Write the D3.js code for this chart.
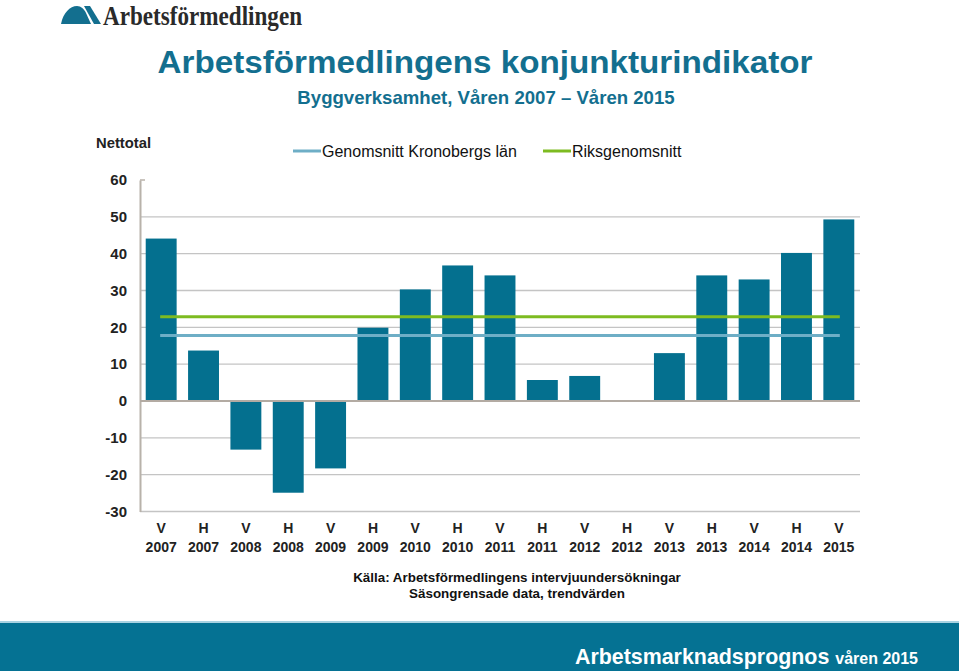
<!DOCTYPE html>
<html><head><meta charset="utf-8">
<script src="https://cdn.jsdelivr.net/npm/d3@7"></script>
<style>
html,body{margin:0;padding:0;background:#fff;}
svg{display:block;font-family:"Liberation Sans",Arial,sans-serif;}
</style></head>
<body>
<svg id="c" width="959" height="671"></svg>
<script>
const seasons = ["V","H","V","H","V","H","V","H","V","H","V","H","V","H","V","H","V"];
const years = ["2007","2007","2008","2008","2009","2009","2010","2010","2011","2011","2012","2012","2013","2013","2014","2014","2015"];
const values = [44.1, 13.7, -13.2, -24.9, -18.3, 19.9, 30.3, 36.8, 34.1, 5.7, 6.8, 0, 13.0, 34.1, 33.0, 40.2, 49.3];
const avgKronoberg = 17.8;
const avgRiket = 22.9;
const yTicks = [-30, -20, -10, 0, 10, 20, 30, 40, 50, 60];
const legendLabels = ["Genomsnitt Kronobergs län", "Riksgenomsnitt"];

(function () {
const svg = d3.select("#c");
const W = 959, H = 671;
const pLeft = 140, pRight = 860, pTop = 180, pBottom = 511.5;
const cats = seasons.map((s, i) => i);

const x = d3.scaleBand().domain(cats).range([pLeft, pRight]).paddingInner(0.27).paddingOuter(0.135);
const y = d3.scaleLinear().domain([-30, 60]).range([pBottom, pTop]);

const barColor = "#04708f";
const blueLine = "#6eaec6";
const greenLine = "#7dbb21";
const titleColor = "#136f8f";

// Logo
const logo = svg.append("g");
logo.append("path").attr("d", "M61,24 C63,13 70,6 77,6 C81,6 84,9 86,13 L91,24 Z").attr("fill", "#136f8f");
logo.append("path").attr("d", "M84,6 L90,6 L101,24 L94,24 Z").attr("fill", "#136f8f");
logo.append("text").attr("x", 103).attr("y", 25).attr("font-family", "'Liberation Serif','DejaVu Serif',serif")
  .attr("font-size", 28).attr("font-weight", "bold").attr("fill", "#2a2a2a").attr("textLength", 199).attr("lengthAdjust", "spacingAndGlyphs")
  .text("Arbetsförmedlingen");

// Title
svg.append("text").attr("x", 485).attr("y", 73).attr("text-anchor", "middle")
  .attr("font-size", 31).attr("font-weight", "bold").attr("fill", titleColor)
  .attr("textLength", 655).attr("lengthAdjust", "spacingAndGlyphs")
  .text("Arbetsförmedlingens konjunkturindikator");
svg.append("text").attr("x", 486).attr("y", 104).attr("text-anchor", "middle")
  .attr("font-size", 18.6).attr("font-weight", "bold").attr("fill", titleColor)
  .text("Byggverksamhet, Våren 2007 – Våren 2015");

// Nettotal
svg.append("text").attr("x", 96).attr("y", 148).attr("font-size", 14.8).attr("font-weight", "bold").attr("fill", "#222")
  .text("Nettotal");

// Legend
const lg = svg.append("g");
lg.append("line").attr("x1", 293).attr("x2", 321).attr("y1", 151).attr("y2", 151).attr("stroke", blueLine).attr("stroke-width", 3);
lg.append("text").attr("x", 322).attr("y", 157).attr("font-size", 16).attr("fill", "#111").text(legendLabels[0]);
lg.append("line").attr("x1", 543).attr("x2", 571).attr("y1", 151).attr("y2", 151).attr("stroke", greenLine).attr("stroke-width", 3);
lg.append("text").attr("x", 572).attr("y", 157).attr("font-size", 16).attr("fill", "#111").text(legendLabels[1]);

// Gridlines
svg.append("g").selectAll("line").data(yTicks.filter(t => t !== 60 && t !== 0)).join("line")
  .attr("x1", pLeft).attr("x2", pRight).attr("y1", d => y(d)).attr("y2", d => y(d))
  .attr("stroke", "#c4c4c4").attr("stroke-width", 1.3);

// Y axis
const yAxis = d3.axisLeft(y).tickValues(yTicks).tickSize(0).tickPadding(13).tickFormat(d => String(d));
const ga = svg.append("g").attr("transform", `translate(${pLeft},0)`).call(yAxis);
ga.select(".domain").attr("stroke", "#b8b2aa").attr("stroke-width", 2);
ga.selectAll("text").attr("font-size", 15).attr("font-weight", "bold").attr("fill", "#222")
  .attr("font-family", "'Liberation Sans',Arial,sans-serif");
svg.append("line").attr("x1", pLeft).attr("x2", pLeft + 5).attr("y1", y(60)).attr("y2", y(60)).attr("stroke", "#b8b2aa").attr("stroke-width", 1.5);

// Bars
svg.append("g").selectAll("rect").data(values).join("rect")
  .attr("x", (d, i) => x(i))
  .attr("width", x.bandwidth())
  .attr("y", d => y(Math.max(0, d)))
  .attr("height", d => Math.abs(y(d) - y(0)))
  .attr("fill", barColor);

// Zero line
svg.append("line").attr("x1", pLeft).attr("x2", pRight).attr("y1", y(0)).attr("y2", y(0))
  .attr("stroke", "#b3aba3").attr("stroke-width", 2);

// Average lines
const xStart = x(0) + x.bandwidth() / 2 - 1, xEnd = x(cats.length - 1) + x.bandwidth() / 2 + 1;
svg.append("line").attr("x1", xStart).attr("x2", xEnd).attr("y1", y(avgKronoberg)).attr("y2", y(avgKronoberg))
  .attr("stroke", blueLine).attr("stroke-width", 3);
svg.append("line").attr("x1", xStart).attr("x2", xEnd).attr("y1", y(avgRiket)).attr("y2", y(avgRiket))
  .attr("stroke", greenLine).attr("stroke-width", 3);

// X labels
const xl = svg.append("g");
xl.selectAll("text.s").data(seasons).join("text").attr("class", "s")
  .attr("x", (d, i) => x(i) + x.bandwidth() / 2).attr("y", 533).attr("text-anchor", "middle")
  .attr("font-size", 14).attr("font-weight", "bold").attr("fill", "#222").text(d => d);
xl.selectAll("text.yr").data(years).join("text").attr("class", "yr")
  .attr("x", (d, i) => x(i) + x.bandwidth() / 2).attr("y", 552).attr("text-anchor", "middle")
  .attr("font-size", 14).attr("font-weight", "bold").attr("fill", "#222").text(d => d);

// Source
svg.append("text").attr("x", 517).attr("y", 582).attr("text-anchor", "middle").attr("font-size", 13.4)
  .attr("font-weight", "bold").attr("fill", "#111").text("Källa: Arbetsförmedlingens intervjuundersökningar");
svg.append("text").attr("x", 517).attr("y", 598).attr("text-anchor", "middle").attr("font-size", 13.4)
  .attr("font-weight", "bold").attr("fill", "#111").text("Säsongrensade data, trendvärden");

// Bottom bar
svg.append("rect").attr("x", 0).attr("y", 621).attr("width", W).attr("height", 2).attr("fill", "#a9d3e2");
svg.append("rect").attr("x", 0).attr("y", 623).attr("width", W).attr("height", H - 623).attr("fill", "#057293");
const bt = svg.append("text").attr("x", 918).attr("y", 664).attr("text-anchor", "end").attr("fill", "#fff").attr("font-weight", "bold");
bt.append("tspan").attr("font-size", 21.4).text("Arbetsmarknadsprognos ");
bt.append("tspan").attr("font-size", 16).text("våren 2015");
})();
</script>
</body></html>
